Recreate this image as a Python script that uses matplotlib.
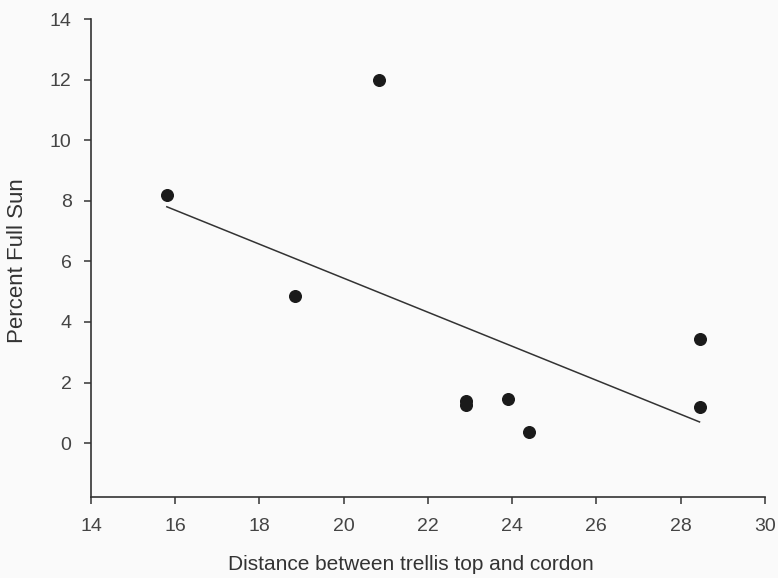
import matplotlib.pyplot as plt
import numpy as np

# data
distance = [15.8, 20.85, 18.85, 22.9, 22.9, 23.9, 24.4, 28.45, 28.45]
full_sun = [8.2, 12.0, 4.85, 1.38, 1.25, 1.45, 0.37, 3.43, 1.2]
xticks = [14, 16, 18, 20, 22, 24, 26, 28, 30]
yticks = [0, 2, 4, 6, 8, 10, 12, 14]

plt.rcParams['font.family'] = ['Liberation Sans', 'DejaVu Sans']

fig = plt.figure(figsize=(7.78, 5.78), dpi=100, facecolor='#fafafa')
ax = fig.add_axes([0.117, 0.140, 0.866, 0.827])
ax.set_facecolor('#fafafa')

ax.scatter(distance, full_sun, s=70, color='#1a1a1a', zorder=3)

# least squares trend line
m, b = np.polyfit(distance, full_sun, 1)
xs = np.array([min(distance), max(distance)])
ax.plot(xs, m * xs + b, color='#333333', lw=1.1)

ax.set_xlim(14, 30)
ax.set_ylim(-1.78, 14)
ax.set_xticks(xticks)
ax.set_yticks(yticks)

for s in ['top', 'right']:
    ax.spines[s].set_visible(False)
for s in ['left', 'bottom']:
    ax.spines[s].set_color('#333333')
    ax.spines[s].set_linewidth(1.2)

ax.tick_params(direction='out', length=5, width=1.1, color='#333333',
               labelsize=14, labelcolor='#444444')
ax.tick_params(axis='x', pad=10)
ax.tick_params(axis='y', pad=9)

ax.set_xlabel('Distance between trellis top and cordon', fontsize=15,
              color='#333333')
ax.set_ylabel('Percent Full Sun', fontsize=16, color='#333333')
ax.xaxis.set_label_coords(0.474, -0.122)
ax.yaxis.set_label_coords(-0.094, 0.494)

fig.savefig('out.png', dpi=100, facecolor=fig.get_facecolor())
